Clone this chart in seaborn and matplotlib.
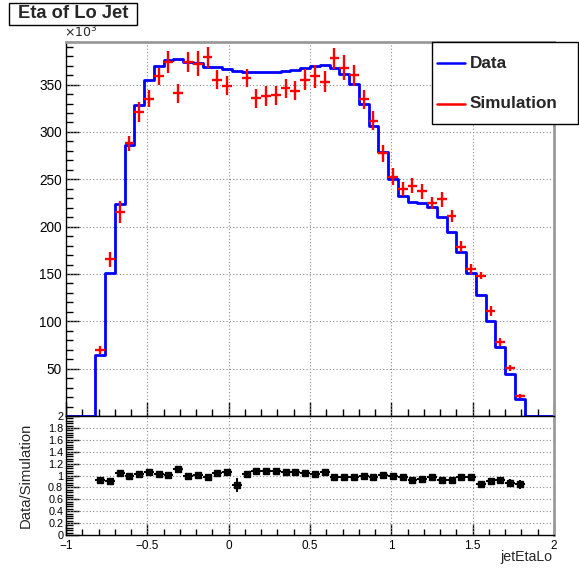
import numpy as np
import pandas as pd
import matplotlib
matplotlib.use("Agg")
import matplotlib.pyplot as plt
from matplotlib.ticker import MultipleLocator, FixedLocator, FuncFormatter
from matplotlib.patches import Rectangle
from matplotlib.lines import Line2D
import seaborn as sns

# ---------------- data (values in thousands) ----------------
bin_edges = [round(-1.0 + 0.06 * i, 2) for i in range(51)]
data_counts = [0, 0, 0, 64, 151.5, 223.5, 285.7, 328.7, 354.4, 370,
               376, 377, 373.8, 372.4, 369, 369, 366.4, 364.3, 363.6, 363,
               363, 363.6, 364.7, 365.7, 368, 370, 371, 367.5, 361.5, 350.6,
               329.8, 306.5, 278.7, 250.8, 232.8, 225.9, 224.8, 220.3, 210, 194.2,
               173, 150.8, 128.3, 100.7, 72.6, 44.4, 18, 0, 0, 0]
sim_counts = [0, 0, 0, 69.5, 165.6, 215.5, 288, 321, 335, 358.7,
              373.8, 341, 373.8, 372, 379, 355, 348.8, 433, 357, 335.8,
              338, 338.6, 346, 343.5, 355, 358.7, 353, 378, 368, 360,
              334.7, 311.8, 277.7, 252.5, 239.8, 243, 237.5, 225, 229, 211.4,
              179, 155.4, 148.3, 111, 77.9, 50.4, 21.2, 0, 0, 0]
sim_errors = [0, 0, 0, 4, 8, 12, 8, 11, 9, 9,
              12, 10, 11, 13, 11, 10, 10, 60, 10, 10,
              11, 10, 10, 10, 11, 12, 11, 11, 13, 11,
              10, 10, 9, 9, 7, 8, 8, 6, 8, 6,
              6, 5, 4, 5, 4, 3, 2, 0, 0, 0]
top_yticks = [50, 100, 150, 200, 250, 300, 350]
ratio_yticks = [0, 0.2, 0.4, 0.6, 0.8, 1.0, 1.2, 1.4, 1.6, 1.8, 2.0]
x_ticks = [-1, -0.5, 0, 0.5, 1, 1.5, 2]

YMAX = 395
edges = np.array(bin_edges)
centers = 0.5 * (edges[:-1] + edges[1:])
half_w = 0.5 * (edges[1] - edges[0])
df = pd.DataFrame({"x": centers, "data": data_counts, "sim": sim_counts, "esim": sim_errors})
df["edata"] = np.sqrt(df["data"] * 1000.0) / 1000.0
nz = df[(df["data"] > 0) & (df["sim"] > 0)].copy()
nz["ratio"] = nz["data"] / nz["sim"]
nz["eratio"] = nz["ratio"] * np.sqrt((nz["edata"] / nz["data"]) ** 2 + (nz["esim"] / nz["sim"]) ** 2)

# ---------------- style ----------------
sns.set_theme(style="white")
plt.rcParams["font.family"] = ["Liberation Sans", "DejaVu Sans"]
plt.rcParams["axes.unicode_minus"] = True

W, H = 579, 573
fig = plt.figure(figsize=(W / 100, H / 100), dpi=100)
fig.patch.set_facecolor("white")

def fx(px):
    return px / W

def fy(py):
    return 1 - py / H

L, R = 66, 554
ax1 = fig.add_axes([fx(L), fy(416), fx(R) - fx(L), fy(42) - fy(416)])
ax2 = fig.add_axes([fx(L), fy(535), fx(R) - fx(L), fy(416) - fy(535)])

grid_kw = dict(color="#8a8a8a", linestyle=(0, (1, 2)), linewidth=0.8)

# ---------------- top panel ----------------
sns.histplot(x=df["x"].to_numpy(), weights=df["data"].to_numpy(), bins=bin_edges,
             element="step", fill=False, color="#0000ff", linewidth=2.0, ax=ax1, zorder=3)
# like ROOT: points whose centre lies above the frame are not drawn
sim_pts = df[(df["sim"] > 0) & (df["sim"] <= YMAX)]
ax1.errorbar(sim_pts["x"], sim_pts["sim"], xerr=half_w, yerr=sim_pts["esim"],
             fmt="none", ecolor="#ff0000", elinewidth=1.7, capsize=0, zorder=4)
ax1.set_xlim(-1, 2)
ax1.set_ylim(0, YMAX)
ax1.set_xlabel("")
ax1.set_ylabel("")
ax1.yaxis.set_major_locator(FixedLocator([0] + top_yticks))
ax1.yaxis.set_minor_locator(MultipleLocator(10))
ax1.yaxis.set_major_formatter(FuncFormatter(lambda v, p: "" if v == 0 else f"{int(v)}"))
ax1.xaxis.set_major_locator(FixedLocator(x_ticks))
ax1.xaxis.set_minor_locator(MultipleLocator(0.1))
ax1.tick_params(axis="both", which="both", direction="in", left=True, bottom=True,
                right=False, top=False, labelbottom=False, colors="black")
ax1.tick_params(axis="y", which="major", length=9, width=1, labelsize=9.8, pad=3)
ax1.tick_params(axis="y", which="minor", length=5, width=1)
ax1.tick_params(axis="x", which="major", length=10, width=1)
ax1.tick_params(axis="x", which="minor", length=5, width=1)
for v in top_yticks:
    ax1.axhline(v, zorder=1, **grid_kw)
for v in x_ticks[1:-1]:
    ax1.axvline(v, zorder=1, **grid_kw)
for s in ["left", "bottom"]:
    ax1.spines[s].set_color("black")
    ax1.spines[s].set_linewidth(1.0)
for s in ["top", "right"]:
    ax1.spines[s].set_color("#9a9a9a")
    ax1.spines[s].set_linewidth(2.0)
ax1.text(-0.005, 1.005, r"$\times10^{3}$", transform=ax1.transAxes, ha="left", va="bottom",
         fontsize=9)

# ---------------- ratio panel ----------------
ax2.errorbar(nz["x"], nz["ratio"], xerr=half_w, yerr=nz["eratio"], fmt="s",
             color="black", ecolor="black", markersize=4.5, elinewidth=1.4, capsize=0,
             zorder=4)
ax2.set_xlim(-1, 2)
ax2.set_ylim(0, 2)
ax2.yaxis.set_major_locator(FixedLocator(ratio_yticks))
ax2.yaxis.set_minor_locator(MultipleLocator(0.04))
ax2.yaxis.set_major_formatter(FuncFormatter(lambda v, p: f"{v:g}"))
ax2.xaxis.set_major_locator(FixedLocator(x_ticks))
ax2.xaxis.set_minor_locator(MultipleLocator(0.1))
ax2.xaxis.set_major_formatter(FuncFormatter(lambda v, p: f"{v:g}".replace("-", "\u2212")))
ax2.tick_params(axis="both", which="both", direction="in", left=True, bottom=True,
                right=False, top=False, colors="black")
ax2.tick_params(axis="y", which="major", length=9, width=1, labelsize=7.8, pad=2)
ax2.tick_params(axis="y", which="minor", length=5, width=1)
ax2.tick_params(axis="x", which="major", length=8, width=1, labelsize=8.5, pad=3.5)
ax2.tick_params(axis="x", which="minor", length=4, width=1)
for v in ratio_yticks[1:-1]:
    ax2.axhline(v, zorder=1, **grid_kw)
for v in x_ticks[1:-1]:
    ax2.axvline(v, zorder=1, **grid_kw)
for s in ["left", "bottom", "top"]:
    ax2.spines[s].set_color("black")
    ax2.spines[s].set_linewidth(1.0)
ax2.spines["right"].set_color("#9a9a9a")
ax2.spines["right"].set_linewidth(2.0)
ax2.set_ylabel("Data/Simulation", fontsize=10.7)
ax2.yaxis.set_label_coords((33 - L) / (R - L), 0.5)
ax2.set_xlabel("")
fig.text(fx(552), fy(557), "jetEtaLo", ha="right", va="center", fontsize=10.2)

# ---------------- title box ----------------
fig.add_artist(Rectangle((fx(9), fy(25)), fx(137) - fx(9), fy(3) - fy(25),
                         transform=fig.transFigure, facecolor="white",
                         edgecolor="black", linewidth=1.0))
fig.text(fx(73), fy(14), "Eta of Lo Jet", ha="center", va="center",
         fontsize=13.2, fontweight="bold")

# ---------------- legend box ----------------
fig.add_artist(Rectangle((fx(432), fy(124)), fx(578) - fx(432), fy(42) - fy(124),
                         transform=fig.transFigure, facecolor="white",
                         edgecolor="black", linewidth=1.0, zorder=10))
leg_items = [("Data", "#0000ff", 63), ("Simulation", "#ff0000", 104)]
for label, col, yy in leg_items:
    fig.add_artist(Line2D([fx(437), fx(465)], [fy(yy), fy(yy)], transform=fig.transFigure,
                          color=col, linewidth=1.8, zorder=11))
    fig.text(fx(470), fy(yy), label, ha="left", va="center", fontsize=12.3,
             fontweight="bold", zorder=12)

fig.savefig("out.png", dpi=100, facecolor="white")
